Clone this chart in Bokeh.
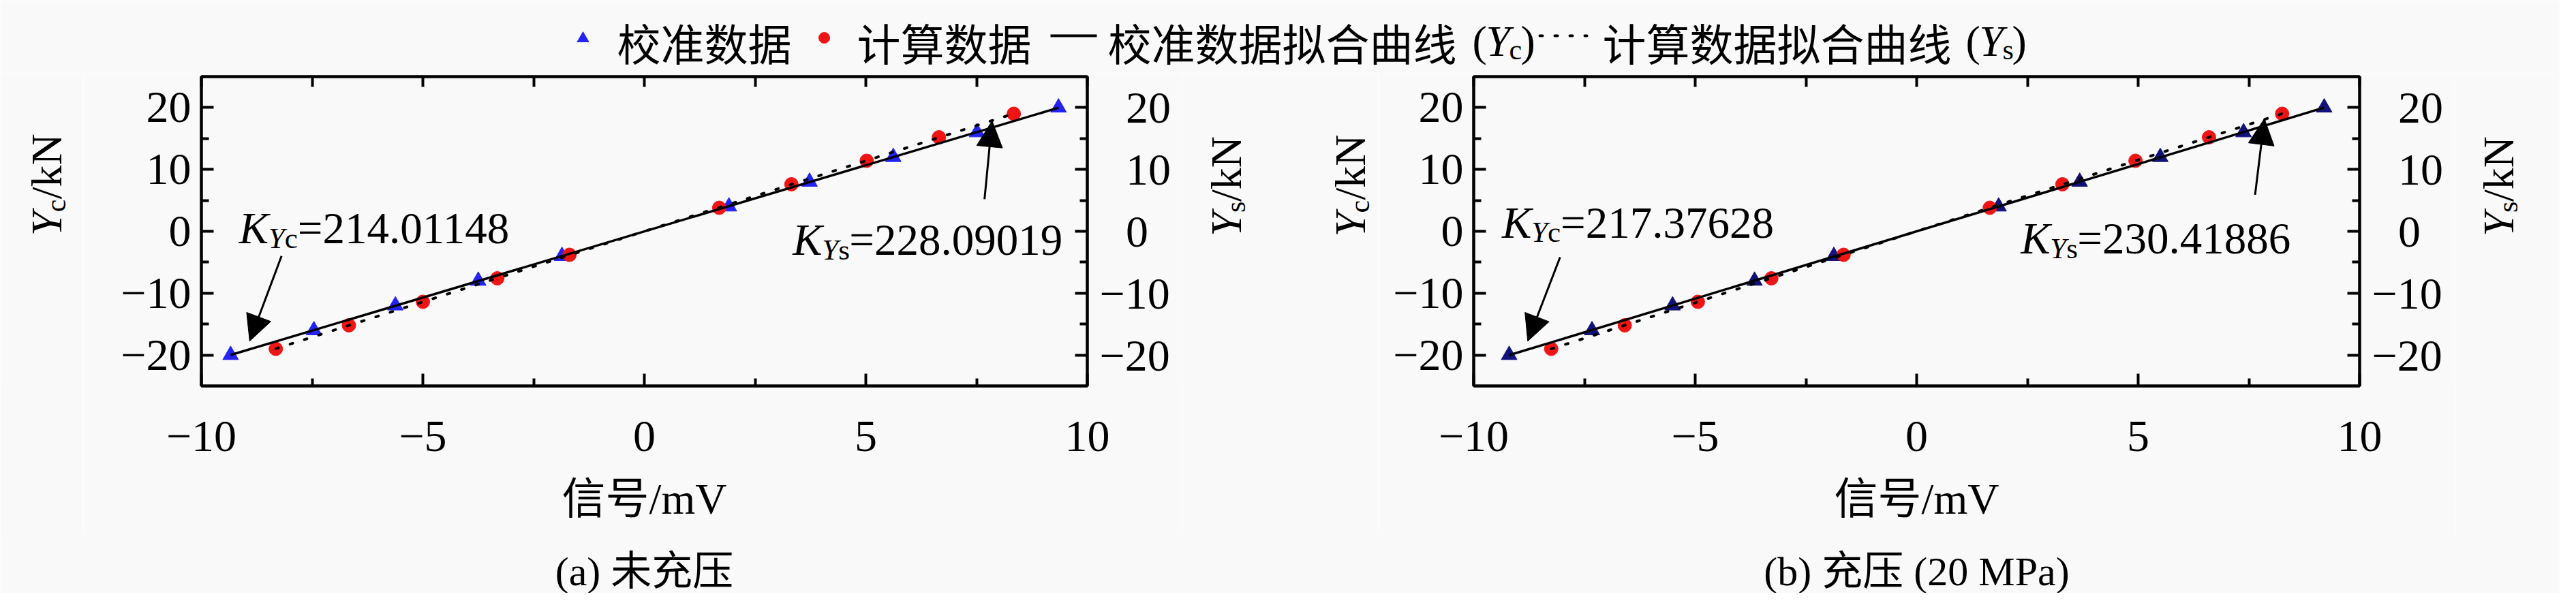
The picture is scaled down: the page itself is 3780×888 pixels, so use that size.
import numpy as np
from math import pi
from bokeh.plotting import figure
from bokeh.models import (Range1d, LinearAxis, FixedTicker, CustomJSTickFormatter,
                          Label, Arrow, NormalHead)
from bokeh.layouts import column, row
from bokeh.embed import file_html
from bokeh.resources import INLINE

# ---------------- data ----------------
load_calib = [-20, -16, -12, -8, -4, 4, 8, 12, 16, 20]                      # kN
load_calc = [-19.0, -15.2, -11.4, -7.6, -3.8, 3.8, 7.6, 11.4, 15.2, 19.0]     # kN
signal_calib_a = [-9.34, -7.46, -5.62, -3.75, -1.86, 1.91, 3.73, 5.62, 7.51, 9.35]
signal_calc_a = [-8.32, -6.67, -5.00, -3.32, -1.69, 1.69, 3.32, 5.02, 6.65, 8.34]
signal_calib_b = [-9.20, -7.33, -5.51, -3.66, -1.87, 1.85, 3.68, 5.50, 7.38, 9.20]
signal_calc_b = [-8.25, -6.59, -4.94, -3.28, -1.65, 1.65, 3.29, 4.94, 6.60, 8.25]
k_yc = ["214.01148", "217.37628"]
k_ys = ["228.09019", "230.41886"]
captions = ["(a) 未充压", "(b) 充压 (20 MPa)"]
x_title = "信号/mV"
x_ticks = [-10, -5, 0, 5, 10]
x_minor = [-7.5, -2.5, 2.5, 7.5]
y_ticks = [-20, -10, 0, 10, 20]
y_minor = [-15, -5, 5, 15]

# ---------------- style / layout ----------------
SERIF = "'Liberation Serif'"
CJK = "'Noto Sans CJK SC'"
MIXED = "'Liberation Serif', 'Noto Sans CJK SC'"
BG = "#f9f9f9"
BLUE_A = "#2323f5"
BLUE_B = "#12127a"
RED = "#f01515"
H_LEG, H_MID, H_BOT = 108, 674, 88
FRAME_W, FRAME_H = 1300, 454
TOP = 4

fmt_plain = CustomJSTickFormatter(code="return tick < 0 ? '\u2212' + (-tick) : String(tick);")
fmt_right = CustomJSTickFormatter(code="return tick < 0 ? '\u2212' + (-tick) : '\u2007\u200a' + tick;")


def lab(p, x, y, text, size, font=SERIF, style="normal", dx=0, dy=0, angle=0,
        align="left", baseline="alphabetic"):
    p.add_layout(Label(x=x, y=y, x_offset=dx, y_offset=dy, text=text, text_font=font,
                       text_font_size=f"{size}px", text_font_style=style, angle=angle,
                       text_align=align, text_baseline=baseline, text_color="black"))


def text_fig(width, height):
    """A blank canvas whose data units are pixels (y grows downward)."""
    return figure(width=width, height=height, x_range=Range1d(0, width),
                  y_range=Range1d(height, 0), x_axis_type=None, y_axis_type=None,
                  output_backend="svg", toolbar_location=None, min_border=0,
                  outline_line_color=None, background_fill_color=BG, border_fill_color=BG)


def style_axis(ax):
    ax.axis_line_width = 4
    ax.axis_line_color = "black"
    ax.major_tick_in = 18
    ax.major_tick_out = 0
    ax.minor_tick_in = 11
    ax.minor_tick_out = 0
    ax.major_tick_line_width = 4
    ax.minor_tick_line_width = 4
    ax.major_label_text_font = "Liberation Serif"
    ax.major_label_text_font_size = "66px"
    ax.major_label_text_color = "black"


def k_label(p, x, y, sub, val):
    up = 10
    lab(p, x, y, "K", 65, style="italic", dy=up)
    lab(p, x, y, "Y", 43, style="italic", dx=43, dy=up - 14)
    lab(p, x, y, sub, 43, dx=67, dy=up - 14)
    lab(p, x, y, "=" + val, 65, dx=67 + (19 if sub == "c" else 16), dy=up)


def y_title(p, x, y, sub):
    """Rotated axis title  Y_sub/kN, baseline at x, starting at y (pixel canvas)."""
    lab(p, x, y, "Y", 64, style="italic", angle=pi / 2)
    lab(p, x, y, sub, 42, dx=13, dy=35, angle=pi / 2)
    lab(p, x, y, "/kN", 64, dy=35 + (19 if sub == "c" else 16), angle=pi / 2)


def panel(width, left, sig_calib, sig_calc, blue, idx, kc_pos, ks_pos, arrows):
    p = figure(width=width, height=H_MID, x_range=Range1d(-10, 10), y_range=Range1d(-25, 25),
               x_axis_type=None, y_axis_type=None, output_backend="svg", toolbar_location=None,
               min_border_left=left, min_border_right=width - left - FRAME_W,
               min_border_top=TOP, min_border_bottom=H_MID - TOP - FRAME_H,
               background_fill_color=BG, border_fill_color=BG,
               outline_line_color="black", outline_line_width=4)
    xt = FixedTicker(ticks=x_ticks, minor_ticks=x_minor)
    yt = FixedTicker(ticks=y_ticks, minor_ticks=y_minor)
    top_t = FixedTicker(ticks=[], minor_ticks=sorted(x_ticks + x_minor))

    bottom = LinearAxis(ticker=xt, formatter=fmt_plain, major_label_standoff=52,
                        axis_label=x_title, axis_label_standoff=32)
    leftax = LinearAxis(ticker=yt, formatter=fmt_plain, major_label_standoff=15)
    rightax = LinearAxis(ticker=yt, formatter=fmt_right, major_label_standoff=18)
    top = LinearAxis(ticker=top_t, major_label_standoff=0)
    for ax in (bottom, leftax, rightax, top):
        style_axis(ax)
    bottom.axis_label_text_font = MIXED
    bottom.axis_label_text_font_size = "64px"
    bottom.axis_label_text_font_style = "normal"
    bottom.axis_label_text_color = "black"
    top.minor_tick_in = 15
    p.add_layout(bottom, "below")
    p.add_layout(top, "above")
    p.add_layout(leftax, "left")
    p.add_layout(rightax, "right")

    # scatter data
    p.scatter(sig_calib, load_calib, marker="triangle", size=23, fill_color=blue,
              line_color=blue, line_width=1)
    p.scatter(sig_calc, load_calc, marker="circle", size=20, fill_color=RED,
              line_color=RED, line_width=1)

    # linear fits of both series
    sc, ic = np.polyfit(sig_calib, load_calib, 1)
    ss, is_ = np.polyfit(sig_calc, load_calc, 1)
    xc = np.array([min(sig_calib), max(sig_calib)])
    xs = np.array([min(sig_calc), max(sig_calc)])
    p.line(xc, sc * xc + ic, line_color="black", line_width=3.5)
    p.line(xs, ss * xs + is_, line_color="black", line_width=4, line_dash="4 18",
           line_cap="round")

    # annotations
    k_label(p, kc_pos[0], kc_pos[1], "c", k_yc[idx])
    k_label(p, ks_pos[0], ks_pos[1], "s", k_ys[idx])
    for (x0, y0, x1, y1) in arrows:
        p.add_layout(Arrow(start=None,
                           end=NormalHead(size=38, fill_color="black", line_color="black"),
                           x_start=x0, y_start=y0, x_end=x1, y_end=y1,
                           line_width=3, line_color="black"))
    return p


fig_a = panel(1613, 173, signal_calib_a, signal_calc_a, BLUE_A, 0,
              (-9.15, -0.66), (3.35, -2.53),
              [(-8.19, -4.0, -8.91, -17.76), (7.68, 5.18, 7.85, 17.84)])
fig_b = panel(1580, 140, signal_calib_b, signal_calc_b, BLUE_B, 1,
              (-9.36, 0.33), (2.35, -2.31),
              [(-8.05, -4.19, -8.78, -17.76), (7.64, 5.91, 7.85, 18.2)])

# ---------------- axis titles beside the panels ----------------
t_left = text_fig(122, H_MID)
y_title(t_left, 68, 347, "c")
t_mid = text_fig(287, H_MID)
y_title(t_mid, 64, 348, "s")
y_title(t_mid, 246, 349, "c")
t_right = text_fig(154, H_MID)
y_title(t_right, 64, 348, "s")

# ---------------- captions ----------------
bot = text_fig(3756, H_BOT)
lab(bot, 945, 56, captions[0], 60, font=MIXED, align="center")
lab(bot, 2812, 56, captions[1], 60, font=MIXED, align="center")

# ---------------- legend strip ----------------
leg = text_fig(3756, H_LEG)
BASE = 60
MID = 52
leg.scatter([855], [MID + 4], marker="triangle", size=17, fill_color=BLUE_A, line_color=BLUE_A)
lab(leg, 905, BASE, "校准数据", 64, font=CJK)
leg.scatter([1209], [MID + 3], marker="circle", size=16, fill_color=RED, line_color=RED)
lab(leg, 1257, BASE, "计算数据", 64, font=CJK)
leg.line([1541, 1609], [MID, MID], line_color="black", line_width=4)
lab(leg, 1625, BASE, "校准数据拟合曲线", 64, font=CJK)
lab(leg, 2160, BASE, "(", 64)
lab(leg, 2180, BASE, "Y", 64, style="italic")
lab(leg, 2214, BASE + 12, "c", 42)
lab(leg, 2231, BASE, ")", 64)
leg.line([2259, 2328], [MID, MID], line_color="black", line_width=4, line_dash="4 18",
         line_cap="round")
lab(leg, 2351, BASE, "计算数据拟合曲线", 64, font=CJK)
lab(leg, 2884, BASE, "(", 64)
lab(leg, 2904, BASE, "Y", 64, style="italic")
lab(leg, 2938, BASE + 12, "s", 42)
lab(leg, 2952, BASE, ")", 64)

layout = column(leg, row(t_left, fig_a, t_mid, fig_b, t_right), bot)
open("out.html", "w").write(file_html(layout, INLINE))
